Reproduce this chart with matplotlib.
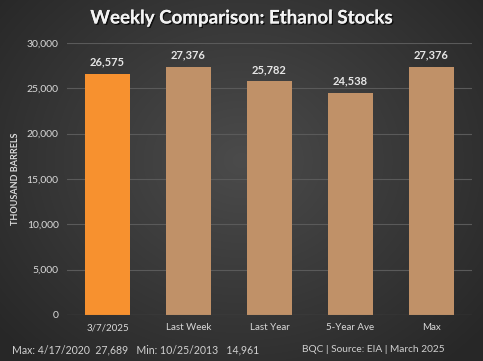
import numpy as np
import matplotlib
matplotlib.use("Agg")
import matplotlib.pyplot as plt
import matplotlib.patheffects as pe

categories = ["3/7/2025", "Last Week", "Last Year", "5-Year Ave", "Max"]
values = [26575, 27376, 25782, 24538, 27376]
bar_colors = ["#F7912F", "#C09168", "#C09168", "#C09168", "#C09168"]
yticks = [0, 5000, 10000, 15000, 20000, 25000, 30000]

plt.rcParams['font.family'] = ['Lato', 'DejaVu Sans']

fig = plt.figure(figsize=(4.83, 3.61), dpi=100)

# radial gradient background
bg = fig.add_axes([0, 0, 1, 1], zorder=-10)
yy, xx = np.mgrid[0:361, 0:483]
cx, cy = 241, 160
r = np.sqrt(((xx - cx) / 320.0) ** 2 + ((yy - cy) / 270.0) ** 2)
r = np.clip(r, 0, 1)
c0 = np.array([0x4b, 0x4b, 0x4b]) / 255.0
c1 = np.array([0x27, 0x27, 0x27]) / 255.0
img = c0[None, None, :] * (1 - r[..., None]) + c1[None, None, :] * r[..., None]
bg.imshow(img, aspect='auto', extent=[0, 1, 0, 1])
bg.axis('off')

ax = fig.add_axes([67 / 483, 46 / 361, (472 - 67) / 483, (315 - 43) / 361])
ax.set_facecolor('none')
x = np.arange(len(categories))
ax.bar(x, values, width=0.56, color=bar_colors, zorder=3)
ax.set_xlim(-0.5, len(categories) - 0.5)
ax.set_ylim(0, 30000)
ax.set_yticks(yticks)
ax.set_yticklabels([f"{v:,}" for v in yticks], color='#d9d9d9', fontsize=7.5)
ax.set_xticks(x)
ax.set_xticklabels(categories, color='#d9d9d9', fontsize=7)
ax.tick_params(length=0, pad=6)
ax.grid(axis='y', color='#5a5a5a', linewidth=0.8, zorder=0)
for s in ax.spines.values():
    s.set_visible(False)
ax.axhline(0, color='#5f5f5f', linewidth=0.8, zorder=4)

for xi, v in zip(x, values):
    ax.text(xi, v + 700, f"{v:,}", ha='center', va='bottom', color='#e6e6e6',
            fontsize=8, fontweight='bold')

ax.set_ylabel("THOUSAND BARRELS", color='#d9d9d9', fontsize=6.5, fontweight='bold', labelpad=5)

fig.text(0.5, 1 - 18 / 361, "Weekly Comparison: Ethanol Stocks", ha='center', va='center',
         color='#f2f2f2', fontsize=13.5, fontweight='bold',
         path_effects=[pe.withSimplePatchShadow(offset=(1, -1), shadow_rgbFace='black', alpha=0.7), pe.Normal()])

fig.text(12 / 483, 1 - 350 / 361, "Max: 4/17/2020  27,689   Min: 10/25/2013   14,961", ha='left', va='center',
         color='#d0d0d0', fontsize=7.6)
fig.text(445 / 483, 1 - 349 / 361, "BQC | Source: EIA | March 2025", ha='right', va='center',
         color='#d0d0d0', fontsize=7.3)

fig.savefig("out.png", dpi=100)
